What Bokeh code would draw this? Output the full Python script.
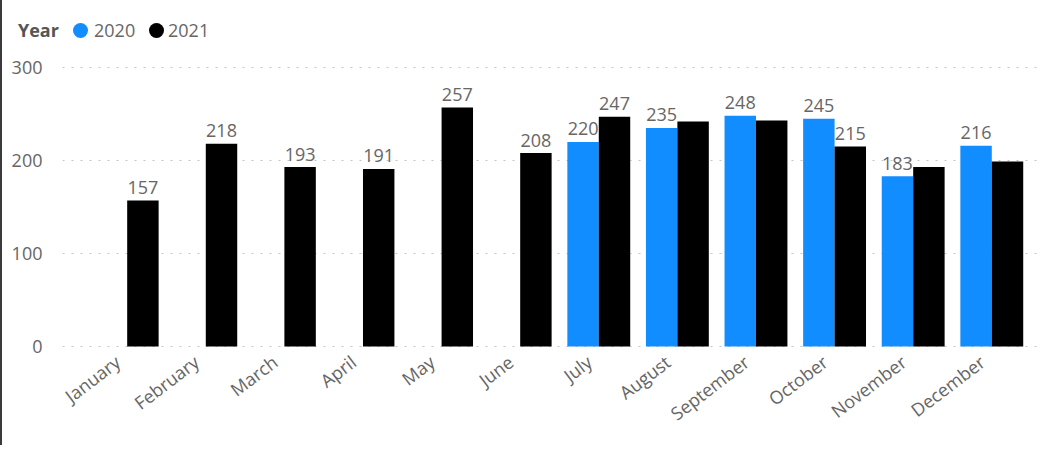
from bokeh.plotting import figure
from bokeh.models import ColumnDataSource, Range1d, FixedTicker, Div
from bokeh.layouts import column
from bokeh.core.properties import value
from bokeh.embed import file_html
from bokeh.resources import INLINE

months = ["January", "February", "March", "April", "May", "June",
          "July", "August", "September", "October", "November", "December"]
nan = float("nan")
year_2020 = [nan, nan, nan, nan, nan, nan, 220, 235, 248, 245, 183, 216]
year_2021 = [157, 218, 193, 191, 257, 208, 247, 242, 243, 215, 193, 199]
labels_2020 = ["", "", "", "", "", "", "220", "235", "248", "245", "183", "216"]
labels_2021 = ["157", "218", "193", "191", "257", "208", "247", "", "", "215", "", ""]
series_names = ["2020", "2021"]
y_ticks = [0, 100, 200, 300]

BLUE = "#118DFF"
BLACK = "#000000"
GRAY = "#666666"
FONT = "Open Sans"
BAR_W = 0.4
LABEL_SHIFT = 0.12
BORDER = "2px solid #3a3a3a"

idx = list(range(len(months)))
src20 = ColumnDataSource(dict(x=[i - BAR_W / 2 for i in idx], top=year_2020, label=labels_2020))
src21 = ColumnDataSource(dict(x=[i + BAR_W / 2 for i in idx], top=year_2021, label=labels_2021))

# legend as HTML header
legend_html = f"""
<div style="position:relative;width:1040px;height:45px;font-family:'Open Sans';font-size:18px;line-height:24px;color:{GRAY};">
  <span style="position:absolute;left:16px;top:18px;font-weight:bold;color:#555555;">Year</span>
  <span style="position:absolute;left:71px;top:23px;width:15px;height:15px;border-radius:50%;background:{BLUE};"></span>
  <span style="position:absolute;left:92px;top:18px;">{series_names[0]}</span>
  <span style="position:absolute;left:147px;top:23px;width:15px;height:15px;border-radius:50%;background:{BLACK};"></span>
  <span style="position:absolute;left:166px;top:18px;">{series_names[1]}</span>
</div>
"""
header = Div(text=legend_html, width=1042, height=45, margin=0, styles={"border-left": BORDER})

p = figure(width=1042, height=400, output_backend="svg", toolbar_location=None,
           x_range=Range1d(-0.823, 11.658), y_range=Range1d(-1.1, 305.4),
           min_border_left=60, min_border_right=1, min_border_top=17, min_border_bottom=98)
p.styles = {"border-left": BORDER}
p.outline_line_color = None

p.vbar(x="x", top="top", width=BAR_W, bottom=0, source=src20, color=BLUE, line_color=None)
p.vbar(x="x", top="top", width=BAR_W, bottom=0, source=src21, color=BLACK, line_color=None)

for src in (src20, src21):
    p.text(x="x", y="top", text="label", source=src, text_align="center",
           text_baseline="alphabetic", y_offset=-13, text_font=value(FONT),
           text_font_size="18px", text_color=GRAY)

p.xgrid.grid_line_color = None
p.ygrid.grid_line_color = "#c4c4c4"
p.ygrid.grid_line_dash = "2 7"
p.ygrid.grid_line_width = 1

p.yaxis.ticker = FixedTicker(ticks=y_ticks)
x_ticks = [i - LABEL_SHIFT for i in idx]
p.xaxis.ticker = FixedTicker(ticks=x_ticks)
p.xaxis.major_label_overrides = {t: m for t, m in zip(x_ticks, months)}
p.xaxis.major_label_orientation = 0.65
for ax in (p.xaxis, p.yaxis):
    ax.axis_line_color = None
    ax.major_tick_line_color = None
    ax.minor_tick_line_color = None
    ax.major_label_text_color = GRAY
    ax.major_label_text_font = FONT
p.yaxis.major_label_text_font_size = "18px"
p.yaxis.major_label_standoff = 14
p.xaxis.major_label_text_font_size = "18px"
p.xaxis.major_label_standoff = 6

layout = column(header, p, spacing=0)
open("out.html", "w").write(file_html(layout, INLINE))
